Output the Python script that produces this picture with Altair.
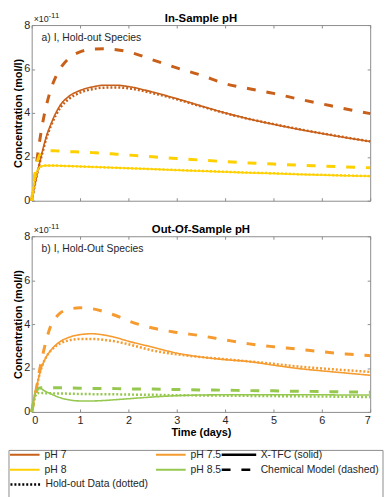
import altair as alt
import pandas as pd

# ---------------- data (concentrations in units of 1e-11 mol/l) ----------------
time_days = [0, 0.05, 0.1, 0.15, 0.2, 0.25, 0.3, 0.4, 0.5, 0.6, 0.75, 1.0, 1.25,
             1.5, 1.75, 2.0, 2.5, 3.0, 3.5, 4.0, 4.5, 5.0, 5.5, 6.0, 6.5, 7.0]

# panel a: in-sample pH
ph7_xtfc = [0, 0.55, 1.1, 1.6, 2.05, 2.5, 2.9, 3.5, 4.0, 4.38, 4.72, 5.02, 5.18,
            5.26, 5.26, 5.2, 4.95, 4.65, 4.32, 4.0, 3.72, 3.48, 3.26, 3.06, 2.87, 2.7]
ph7_chem = [0, 0.8, 1.7, 2.5, 3.2, 3.8, 4.3, 5.1, 5.65, 6.05, 6.45, 6.78, 6.9,
            6.92, 6.88, 6.78, 6.42, 6.05, 5.72, 5.33, 5.1, 4.89, 4.64, 4.41, 4.18, 3.97]
ph7_data = [0, 0.55, 1.1, 1.58, 2.0, 2.42, 2.82, 3.42, 3.9, 4.26, 4.6, 4.92, 5.08,
            5.15, 5.16, 5.12, 4.9, 4.62, 4.3, 3.99, 3.72, 3.49, 3.27, 3.07, 2.88, 2.7]
ph8_xtfc = [0, 0.8, 1.3, 1.5, 1.57, 1.6, 1.6, 1.6, 1.6, 1.59, 1.58, 1.56, 1.54,
            1.52, 1.5, 1.48, 1.44, 1.39, 1.35, 1.31, 1.27, 1.24, 1.2, 1.17, 1.14, 1.12]
ph8_chem = [0, 0.9, 1.6, 2.0, 2.2, 2.26, 2.28, 2.28, 2.27, 2.26, 2.24, 2.22, 2.19,
            2.16, 2.12, 2.08, 2.0, 1.92, 1.85, 1.78, 1.72, 1.67, 1.62, 1.58, 1.54, 1.5]
ph8_data = [0, 0.75, 1.25, 1.48, 1.56, 1.59, 1.6, 1.6, 1.6, 1.59, 1.58, 1.56, 1.54,
            1.52, 1.5, 1.48, 1.44, 1.4, 1.36, 1.32, 1.28, 1.25, 1.21, 1.18, 1.15, 1.12]

# panel b: out-of-sample pH
ph75_xtfc = [0, 0.55, 1.1, 1.6, 2.0, 2.28, 2.5, 2.82, 3.05, 3.22, 3.38, 3.52, 3.56,
             3.5, 3.38, 3.22, 2.95, 2.68, 2.5, 2.38, 2.29, 2.13, 1.98, 1.87, 1.77, 1.67]
ph75_chem = [0, 0.5, 1.1, 1.75, 2.3, 2.8, 3.25, 3.95, 4.3, 4.52, 4.66, 4.74, 4.7,
             4.56, 4.38, 4.15, 3.82, 3.62, 3.47, 3.28, 3.1, 2.97, 2.86, 2.74, 2.64, 2.56]
ph75_data = [0, 0.55, 1.1, 1.6, 2.0, 2.28, 2.5, 2.8, 3.0, 3.13, 3.25, 3.32, 3.32,
             3.28, 3.2, 3.08, 2.8, 2.62, 2.5, 2.4, 2.3, 2.19, 2.07, 1.98, 1.9, 1.82]
ph85_xtfc = [0, 0.7, 1.05, 1.1, 1.05, 0.98, 0.92, 0.82, 0.72, 0.64, 0.56, 0.5, 0.5,
             0.52, 0.56, 0.6, 0.68, 0.74, 0.77, 0.78, 0.78, 0.78, 0.78, 0.78, 0.77, 0.77]
ph85_chem = [0, 0.6, 0.95, 1.08, 1.1, 1.1, 1.1, 1.1, 1.1, 1.1, 1.09, 1.08, 1.07,
             1.07, 1.06, 1.05, 1.04, 1.02, 1.0, 0.99, 0.97, 0.96, 0.94, 0.93, 0.91, 0.9]
ph85_data = [0, 0.55, 0.82, 0.86, 0.86, 0.86, 0.85, 0.85, 0.84, 0.84, 0.83, 0.82, 0.81,
             0.8, 0.8, 0.79, 0.78, 0.76, 0.75, 0.74, 0.73, 0.72, 0.71, 0.7, 0.69, 0.68]

ph_labels = ["pH 7", "pH 7.5", "pH 8", "pH 8.5"]
ph_colors = ["#C8601A", "#F59B2F", "#FFD000", "#96C850"]
model_labels = ["X-TFC (solid)", "Chemical Model (dashed)", "Hold-out Data (dotted)"]
model_dashes = [[1, 0], [9, 11], [2, 2]]
x_ticks = [0, 1, 2, 3, 4, 5, 6, 7]
y_ticks = [0, 2, 4, 6, 8]
titles = ["In-Sample pH", "Out-Of-Sample pH"]
notes = ["a) I, Hold-out Species", "b) I, Hold-Out Species"]

FONT = "Liberation Sans"
GREY = "#8c8c8c"
W, H = 343, 178


def long_frame(series):
    rows = []
    for ph, model, vals in series:
        for t, v in zip(time_days, vals):
            rows.append({"t": t, "v": v, "ph": ph, "model": model,
                         "holdout": model})
    return pd.DataFrame(rows)


df_a = long_frame([
    ("pH 7", model_labels[0], ph7_xtfc), ("pH 8", model_labels[0], ph8_xtfc),
    ("pH 7", model_labels[1], ph7_chem), ("pH 8", model_labels[1], ph8_chem),
    ("pH 7", model_labels[2], ph7_data), ("pH 8", model_labels[2], ph8_data),
])
df_b = long_frame([
    ("pH 7.5", model_labels[0], ph75_xtfc), ("pH 8.5", model_labels[0], ph85_xtfc),
    ("pH 7.5", model_labels[1], ph75_chem), ("pH 8.5", model_labels[1], ph85_chem),
    ("pH 7.5", model_labels[2], ph75_data), ("pH 8.5", model_labels[2], ph85_data),
])

# ---------------- legends ----------------
LX, LY = -23, 430
leg_common = dict(orient="none", direction="horizontal", symbolType="stroke",
                  labelFont=FONT, labelFontSize=10.5, labelColor="#262626",
                  padding=0, rowPadding=4, clipHeight=11)
color_legend = alt.Legend(title=None, columns=2, columnPadding=89,
                          legendX=LX, legendY=LY, symbolStrokeWidth=2,
                          symbolSize=900, labelOffset=4, **leg_common)
dash_legend = alt.Legend(title=None, values=model_labels[:2], columns=1,
                         legendX=LX + 214, legendY=LY, symbolStrokeWidth=2.5,
                         symbolSize=1225, labelOffset=3,
                         symbolStrokeColor="black", **leg_common)
hold_legend = alt.Legend(title=None, columns=1, legendX=LX, legendY=LY + 30,
                         symbolStrokeWidth=2.5, symbolStrokeColor="black",
                         symbolSize=900, labelOffset=4,
                         symbolDash=[2, 2], **leg_common)

color_enc = alt.Color("ph:N", scale=alt.Scale(domain=ph_labels, range=ph_colors),
                      legend=color_legend)
dash_enc = alt.StrokeDash("model:N",
                          scale=alt.Scale(domain=model_labels, range=model_dashes),
                          legend=dash_legend)
y_scale = alt.Scale(domain=[0, 8], nice=False)
x_scale = alt.Scale(domain=[0, 7], nice=False)


def panel(df, title, note, bottom):
    main_x = alt.Axis(orient="bottom", values=x_ticks, labels=bottom, ticks=False,
                      tickSize=0, domain=False, grid=False, labelPadding=3,
                      title="Time (days)" if bottom else None, titlePadding=1)
    main_y = alt.Axis(orient="left", values=y_ticks, ticks=False, tickSize=0,
                      domain=False, grid=False, labelPadding=2,
                      title="Concentration (mol/l)", titlePadding=0)
    in_bottom = alt.Axis(orient="top", offset=-H, values=x_ticks, labels=False,
                         domain=False, grid=False, ticks=True, tickSize=3, title=None)
    in_top = alt.Axis(orient="bottom", offset=-H, values=x_ticks, labels=False,
                      domain=False, grid=False, ticks=True, tickSize=3, title=None)
    in_left = alt.Axis(orient="right", offset=-W, values=y_ticks, labels=False,
                       domain=False, grid=False, ticks=True, tickSize=3, title=None)
    in_right = alt.Axis(orient="left", offset=-W, values=y_ticks, labels=False,
                        domain=False, grid=False, ticks=True, tickSize=3, title=None)

    base = alt.Chart(df)
    solid = base.transform_filter(alt.datum.model == model_labels[0]).mark_line(
        strokeWidth=1.6, interpolate="monotone").encode(
        x=alt.X("t:Q", scale=x_scale, axis=main_x),
        y=alt.Y("v:Q", scale=y_scale, axis=main_y),
        color=color_enc, strokeDash=dash_enc)
    dashed = base.transform_filter(alt.datum.model == model_labels[1]).mark_line(
        strokeWidth=3, interpolate="monotone").encode(
        x=alt.X("t:Q", scale=x_scale, axis=in_bottom),
        y=alt.Y("v:Q", scale=y_scale, axis=in_left),
        color=color_enc, strokeDash=dash_enc)
    dotted = base.transform_filter(alt.datum.model == model_labels[2]).mark_line(
        strokeWidth=2.5, interpolate="monotone").encode(
        x=alt.X("t:Q", scale=x_scale, axis=in_top),
        y=alt.Y("v:Q", scale=y_scale, axis=in_right),
        color=color_enc, strokeDash=dash_enc,
        opacity=alt.Opacity("holdout:N",
                            scale=alt.Scale(domain=[model_labels[2]], range=[1, 1]),
                            legend=hold_legend))

    one = pd.DataFrame({"k": [0]})
    note_t = alt.Chart(one).mark_text(text=note, align="left", baseline="middle",
                                      font=FONT, fontSize=10.5, color="#262626").encode(
        x=alt.value(10), y=alt.value(13))
    exp_a = alt.Chart(one).mark_text(text="×10", align="left", baseline="alphabetic",
                                     font=FONT, fontSize=9, color="#262626").encode(
        x=alt.value(2), y=alt.value(-3))
    exp_b = alt.Chart(one).mark_text(text="-11", align="left", baseline="alphabetic",
                                     font=FONT, fontSize=8, color="#262626").encode(
        x=alt.value(17), y=alt.value(-7))
    layers = [solid, dashed, dotted, note_t, exp_a, exp_b]
    if bottom:
        box = alt.Chart(one).mark_rect(fillOpacity=0, stroke=GREY, strokeWidth=1).encode(
            x=alt.value(-23), x2=alt.value(356), y=alt.value(H + 39), y2=alt.value(H + 88))
        layers.append(box)
    return alt.layer(*layers).resolve_axis(x="independent", y="independent").properties(
        width=W, height=H,
        title=alt.TitleParams(title, font=FONT, fontSize=11.5, fontWeight="bold",
                              color="black", anchor="middle", frame="group", offset=-12))


chart = alt.vconcat(
    panel(df_a, titles[0], notes[0], False),
    panel(df_b, titles[1], notes[1], True),
    spacing=15,
).properties(padding=0, background="white").configure_view(
    stroke=GREY, strokeWidth=1
).configure_axis(
    labelFont=FONT, labelFontSize=11, labelColor="#262626",
    titleFont=FONT, titleFontSize=11, titleFontWeight="bold", titleColor="black",
    tickColor=GREY, tickWidth=1
)

chart.save("out.html", embed_options={"renderer": "svg", "actions": False})
